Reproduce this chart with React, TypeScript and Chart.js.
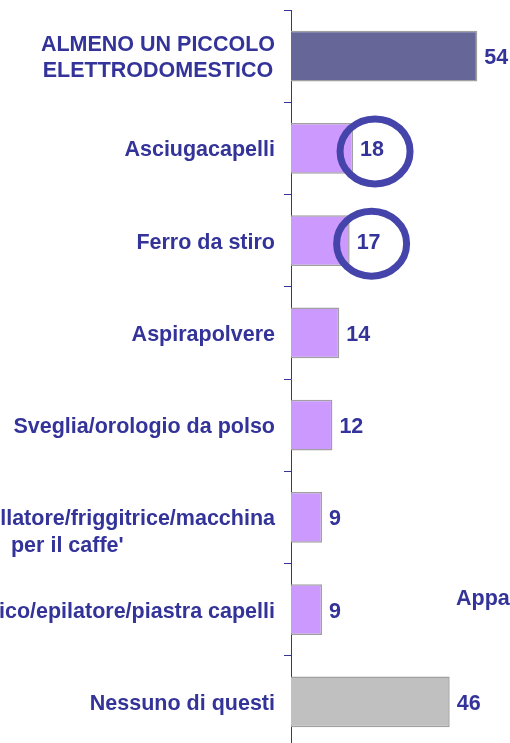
import React, { useEffect, useRef } from "react";
import { Chart, registerables } from "chart.js";

Chart.register(...registerables);

const categories: string[][] = [
  ["ALMENO UN PICCOLO", "ELETTRODOMESTICO"],
  ["Asciugacapelli"],
  ["Ferro da stiro"],
  ["Aspirapolvere"],
  ["Sveglia/orologio da polso"],
  ["", "Tostapane/frullatore/friggitrice/macchina", "per il caffe'"],
  ["Rasoio elettrico/epilatore/piastra capelli"],
  ["Nessuno di questi"],
];
const values: number[] = [54, 18, 17, 14, 12, 9, 9, 46];
const barColors: string[] = [
  "#666699",
  "#CC99FF",
  "#CC99FF",
  "#CC99FF",
  "#CC99FF",
  "#CC99FF",
  "#CC99FF",
  "#C0C0C0",
];
const highlighted: number[] = [1, 2];
const sideNote = "Apparecchi elettrici";

const TEXT = "#333399";
const FONT = "bold 21.5px 'Liberation Sans', Arial, sans-serif";

const overlay = {
  id: "overlay",
  afterDraw(chart: any) {
    const ctx = chart.ctx as CanvasRenderingContext2D;
    const y = chart.scales.y;
    const meta = chart.getDatasetMeta(0);
    ctx.save();
    ctx.font = FONT;
    ctx.fillStyle = TEXT;
    ctx.textBaseline = "middle";
    // category labels
    categories.forEach((lines, i) => {
      const cy = y.getPixelForValue(i) + 2;
      const widths = lines.map((l) => ctx.measureText(l).width);
      const widest = Math.max(...widths);
      const cx = 275 - widest / 2;
      const lh = 26.5;
      const y0 = cy - ((lines.length - 1) * lh) / 2;
      ctx.textAlign = "center";
      lines.forEach((l, k) => {
        if (l) ctx.fillText(l, cx, y0 + k * lh);
      });
    });
    // value labels
    ctx.textAlign = "left";
    meta.data.forEach((bar: any, i: number) => {
      ctx.fillText(String(values[i]), bar.x + 7, bar.y + 2);
    });
    // highlight circles
    ctx.strokeStyle = "#4444AA";
    ctx.lineWidth = 7;
    highlighted.forEach((i) => {
      const bar = meta.data[i];
      const w = ctx.measureText(String(values[i])).width;
      const cx = bar.x + 7 + w / 2 + 3;
      ctx.beginPath();
      ctx.ellipse(cx, bar.y + 3, 35, 32.5, 0, 0, Math.PI * 2);
      ctx.stroke();
    });
    // side note (cut off at the right edge)
    ctx.fillStyle = TEXT;
    ctx.textAlign = "left";
    const ny = (y.getPixelForValue(5) + y.getPixelForValue(6)) / 2 + 36;
    ctx.fillText(sideNote, 456, ny);
    ctx.restore();
  },
};

export default function App() {
  const ref = useRef<HTMLCanvasElement | null>(null);
  useEffect(() => {
    if (!ref.current) return;
    const chart = new Chart(ref.current, {
      type: "bar",
      data: {
        labels: categories.map((c) => c.filter(Boolean).join(" ")),
        datasets: [
          {
            data: values,
            backgroundColor: barColors,
            borderColor: "#A0A0A0",
            borderWidth: 1.5,
            barPercentage: 0.55,
            categoryPercentage: 1,
          },
        ],
      },
      options: {
        indexAxis: "y",
        animation: false,
        responsive: false,
        layout: { padding: { top: 10, right: 12, left: 0, bottom: 0 } },
        plugins: {
          legend: { display: false },
          tooltip: { enabled: false },
        },
        scales: {
          x: { display: false, min: 0, max: 60 },
          y: {
            type: "category",
            ticks: { display: false },
            grid: {
              display: true,
              drawOnChartArea: false,
              drawTicks: true,
              tickLength: 7,
              color: "#333399",
              offset: true,
            },
            border: { display: true, color: "#333399", width: 1 },
            afterFit: (scale: any) => {
              scale.width = 291;
            },
          },
        },
      },
      plugins: [overlay],
    });
    return () => chart.destroy();
  }, []);
  return (
    <div
      style={{
        position: "fixed",
        left: 0,
        top: 0,
        width: 510,
        height: 743,
        overflow: "hidden",
        background: "#ffffff",
      }}
    >
      <canvas ref={ref} width={510} height={748} style={{ display: "block" }} />
    </div>
  );
}
